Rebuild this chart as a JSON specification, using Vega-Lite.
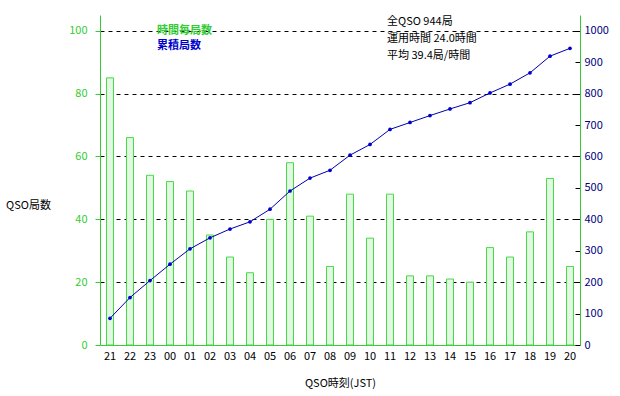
{
  "$schema": "https://vega.github.io/schema/vega-lite/v6.json",
  "width": 480,
  "height": 330,
  "autosize": {"type": "none"},
  "padding": {"left": 100, "top": 15, "right": 40, "bottom": 51},
  "background": "white",
  "config": {
    "view": {"stroke": null},
    "font": "Noto Sans CJK JP",
    "axis": {"labelFont": "Noto Sans CJK JP", "titleFont": "Noto Sans CJK JP", "labelFontSize": 11, "titleFontSize": 11, "titleFontWeight": "normal"}
  },
  "datasets": {
    "hourly": [
      {"hour": "21", "count": 85, "cum": 85},
      {"hour": "22", "count": 66, "cum": 151},
      {"hour": "23", "count": 54, "cum": 205},
      {"hour": "00", "count": 52, "cum": 257},
      {"hour": "01", "count": 49, "cum": 306},
      {"hour": "02", "count": 35, "cum": 341},
      {"hour": "03", "count": 28, "cum": 369},
      {"hour": "04", "count": 23, "cum": 392},
      {"hour": "05", "count": 40, "cum": 432},
      {"hour": "06", "count": 58, "cum": 490},
      {"hour": "07", "count": 41, "cum": 531},
      {"hour": "08", "count": 25, "cum": 556},
      {"hour": "09", "count": 48, "cum": 604},
      {"hour": "10", "count": 34, "cum": 638},
      {"hour": "11", "count": 48, "cum": 686},
      {"hour": "12", "count": 22, "cum": 708},
      {"hour": "13", "count": 22, "cum": 730},
      {"hour": "14", "count": 21, "cum": 751},
      {"hour": "15", "count": 20, "cum": 771},
      {"hour": "16", "count": 31, "cum": 802},
      {"hour": "17", "count": 28, "cum": 830},
      {"hour": "18", "count": 36, "cum": 866},
      {"hour": "19", "count": 53, "cum": 919},
      {"hour": "20", "count": 25, "cum": 944}
    ],
    "legend": [
      {"hour": "23", "v": 100, "label": "時間毎局数", "kind": "count"},
      {"hour": "23", "v": 95.2, "label": "累積局数", "kind": "cum"}
    ],
    "notes": [
      {"hour": "11", "v": 102.9, "label": "全QSO 944局"},
      {"hour": "11", "v": 97.5, "label": "運用時間 24.0時間"},
      {"hour": "11", "v": 92, "label": "平均 39.4局/時間"}
    ]
  },
  "encoding": {
    "x": {
      "field": "hour", "type": "ordinal", "sort": null,
      "scale": {"domain": ["21","22","23","00","01","02","03","04","05","06","07","08","09","10","11","12","13","14","15","16","17","18","19","20"], "paddingInner": 0.6, "paddingOuter": 0.3},
      "axis": {"title": "QSO時刻(JST)", "labelAngle": 0, "ticks": false, "labelPadding": 5, "domainColor": "#33cc33", "labelColor": "black", "titleColor": "black", "titleY": 38, "titleBaseline": "middle"}
    }
  },
  "layer": [
    {
      "layer": [
        {
          "data": {"name": "hourly"},
          "mark": {"type": "bar", "fill": "#e2f8e2", "stroke": "#44dd44", "strokeWidth": 1, "size": 7},
          "encoding": {
            "y": {
              "field": "count", "type": "quantitative",
              "scale": {"domain": [0, 105], "nice": false},
              "axis": {
                "title": "QSO局数", "titleAngle": 0, "titleX": -72, "titleY": 190, "titleAlign": "center", "titleBaseline": "middle", "titleColor": "black",
                "values": [0, 20, 40, 60, 80, 100], "orient": "left",
                "domainColor": "#33cc33", "tickColor": "#33cc33", "labelColor": "#33cc33", "tickSize": 5, "labelPadding": 8,
                "grid": true, "gridColor": "black", "gridDash": [4, 4], "gridWidth": 1,
                "gridOpacity": {"condition": {"test": "datum.value === 0", "value": 0}, "value": 1}
              }
            }
          }
        },
        {
          "data": {"name": "legend"},
          "mark": {"type": "text", "align": "left", "baseline": "middle", "dx": 7, "fontSize": 11, "fontWeight": "bold"},
          "encoding": {
            "y": {"field": "v", "type": "quantitative"},
            "text": {"field": "label"},
            "color": {"field": "kind", "type": "nominal", "scale": {"domain": ["count", "cum"], "range": ["#33cc33", "#0000cc"]}, "legend": null}
          }
        },
        {
          "data": {"name": "notes"},
          "mark": {"type": "text", "align": "left", "baseline": "middle", "dx": -3, "fontSize": 11, "color": "black"},
          "encoding": {
            "y": {"field": "v", "type": "quantitative"},
            "text": {"field": "label"}
          }
        }
      ]
    },
    {
      "data": {"name": "hourly"},
      "mark": {"type": "line", "color": "#0000b0", "strokeWidth": 1, "point": {"filled": true, "size": 14, "color": "#0000cc"}},
      "encoding": {
        "y": {
          "field": "cum", "type": "quantitative",
          "scale": {"domain": [0, 1050], "nice": false},
          "axis": {
            "title": null, "orient": "right", "values": [0, 100, 200, 300, 400, 500, 600, 700, 800, 900, 1000], "format": "d",
            "domainColor": "#33cc33", "tickColor": "black", "tickSize": -5, "labelPadding": 9, "labelColor": "#000080", "grid": false
          }
        }
      }
    }
  ],
  "resolve": {"scale": {"y": "independent"}}
}
